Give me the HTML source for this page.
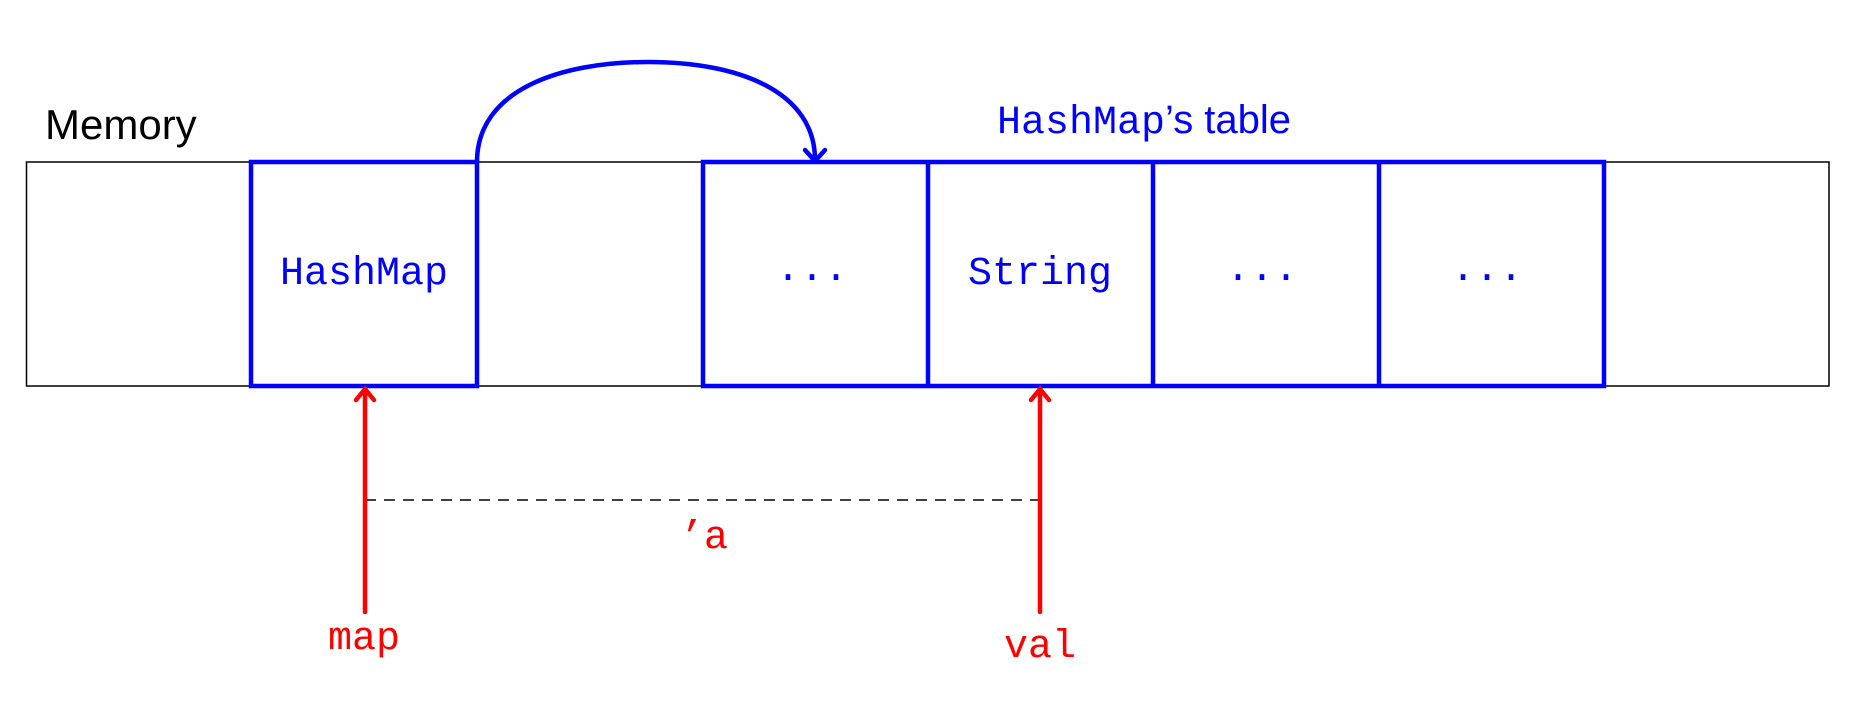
<!DOCTYPE html>
<html><head><meta charset="utf-8"><style>
html,body{margin:0;padding:0;background:#fff;}
svg{display:block;}
</style></head><body>
<svg width="1857" height="711" viewBox="0 0 1857 711" xmlns="http://www.w3.org/2000/svg">
<rect x="26.5" y="162" width="1802.5" height="224" fill="none" stroke="#000" stroke-width="1.5"/>
<g fill="none" stroke="#0000ff" stroke-width="4.5">
<rect x="251" y="162" width="226" height="224"/>
<rect x="703" y="162" width="901" height="224"/>
<line x1="928" y1="162" x2="928" y2="386"/>
<line x1="1153" y1="162" x2="1153" y2="386"/>
<line x1="1379" y1="162" x2="1379" y2="386"/>
<path d="M477,162 C477,90 560,62 648,62 C740,62 815,92 815,160"/>
<path d="M805,150 L815,161 L825,150" stroke-linecap="round"/>
</g>
<text x="45" y="139" font-family="Liberation Sans, sans-serif" font-size="42" fill="#000">Memory</text>
<text x="997" y="133" font-size="40" fill="#0000ff"><tspan font-family="Liberation Mono, monospace">HashMap</tspan><tspan font-family="Liberation Sans, sans-serif">’s table</tspan></text>
<g font-family="Liberation Mono, monospace" font-size="40" fill="#0000ff" text-anchor="middle">
<text x="364" y="284">HashMap</text>
<text x="1040" y="284">String</text>
<text x="812" y="280">...</text>
<text x="1262" y="280">...</text>
<text x="1487" y="280">...</text>
</g>
<line x1="365" y1="500" x2="1040" y2="500" stroke="#000" stroke-width="1.5" stroke-dasharray="11,8"/>
<g stroke="#ff0000" stroke-width="4.5" fill="none" stroke-linecap="round">
<line x1="365" y1="612" x2="365" y2="390"/>
<path d="M356,400 L365,389 L374,400"/>
<line x1="1040" y1="612" x2="1040" y2="390"/>
<path d="M1031,400 L1040,389 L1049,400"/>
</g>
<g font-family="Liberation Mono, monospace" font-size="40" fill="#ff0000" text-anchor="middle">
<text x="704" y="548">’a</text>
<text x="364" y="649">map</text>
<text x="1040" y="657">val</text>
</g>
</svg>
</body></html>
